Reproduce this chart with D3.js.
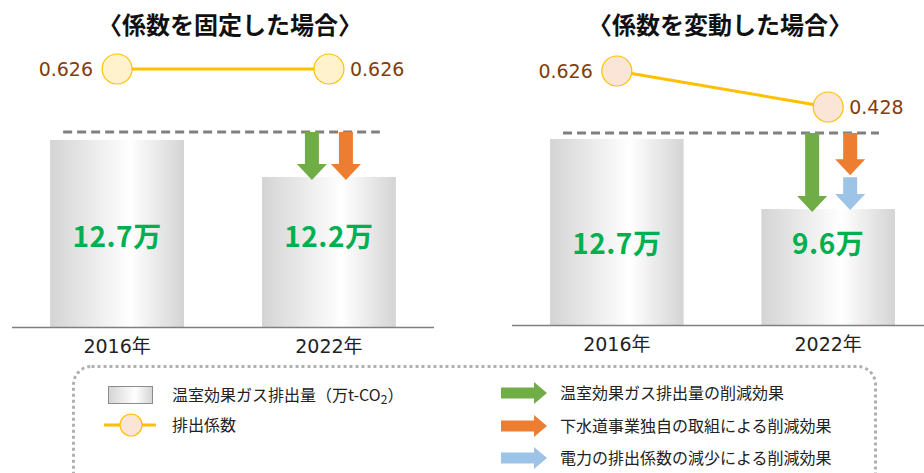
<!DOCTYPE html>
<html>
<head>
<meta charset="utf-8">
<script src="https://cdn.jsdelivr.net/npm/d3@7"></script>
<style>
  body { margin: 0; background: #fff; }
  svg { display: block; font-family: "Noto Sans CJK JP", "Noto Sans", sans-serif; }
  .num { font-family: "DejaVu Sans", "Noto Sans CJK JP", sans-serif; }
</style>
</head>
<body>
<div class="chart"></div>
<script>
////////// DATA //////////

var years = ["2016年", "2022年"];
var titles = ["〈係数を固定した場合〉", "〈係数を変動した場合〉"];
var emissionsFixed = [12.7, 12.2];
var emissionsVaried = [12.7, 9.6];
var coefFixed = [0.626, 0.626];
var coefVaried = [0.626, 0.428];
var valueLabelsFixed = ["12.7万", "12.2万"];
var valueLabelsVaried = ["12.7万", "9.6万"];
// where the own-effort (orange) arrow stops in the varied case
var ownEffortEnd = 11.1;

var legendLeft = ["温室効果ガス排出量（万t-CO", "排出係数"];
var legendRight = ["温室効果ガス排出量の削減効果", "下水道事業独自の取組による削減効果", "電力の排出係数の減少による削減効果"];

var green = "#70ad47", orange = "#ed7d31", blue = "#9dc3e6";


////////// SETUP //////////

var width = 924, height = 473;

var svg = d3.select(".chart")
  .append("svg")
  .attr("width", width)
  .attr("height", height);

var defs = svg.append("defs");
var grad = defs.append("linearGradient")
  .attr("id", "barGrad")
  .attr("x1", "0%").attr("x2", "100%").attr("y1", "0%").attr("y2", "0%");
grad.append("stop").attr("offset", "0%").attr("stop-color", "#d4d4d4");
grad.append("stop").attr("offset", "60%").attr("stop-color", "#ffffff");
grad.append("stop").attr("offset", "100%").attr("stop-color", "#d4d4d4");

// panel settings (layout only)
var panels = [
  {
    title: titles[0], titleX: 230,
    values: emissionsFixed, labels: valueLabelsFixed, coef: coefFixed,
    range: [12, 434], base: 327, yDomainMin: 10.17, top: 140,
    coefRange: [105, 69], coefFill: "#fff2cc", labelY: 237,
    arrowDx: [-17, 17], dashY: 132
  },
  {
    title: titles[1], titleX: 720,
    values: emissionsVaried, labels: valueLabelsVaried, coef: coefVaried,
    range: [512, 933], base: 325, yDomainMin: 4.47, top: 139,
    coefRange: [107, 71], coefFill: "#fbe5d6", labelY: 244,
    arrowDx: [-16, 22], dashY: 133
  }
];

function downArrow(g, cx, y0, y1, color) {
  var sw = 7, hw = 15, hl = 16;
  var hy = y1 - hl;
  var p = d3.path();
  p.moveTo(cx - sw, y0);
  p.lineTo(cx + sw, y0);
  p.lineTo(cx + sw, hy);
  p.lineTo(cx + hw, hy);
  p.lineTo(cx, y1);
  p.lineTo(cx - hw, hy);
  p.lineTo(cx - sw, hy);
  p.closePath();
  g.append("path").attr("d", p.toString()).attr("fill", color);
}

function rightArrow(g, x0, x1, cy, color) {
  var sh = 5.5, hh = 11, hl = 13;
  var hx = x1 - hl;
  var p = d3.path();
  p.moveTo(x0, cy - sh);
  p.lineTo(hx, cy - sh);
  p.lineTo(hx, cy - hh);
  p.lineTo(x1, cy);
  p.lineTo(hx, cy + hh);
  p.lineTo(hx, cy + sh);
  p.lineTo(x0, cy + sh);
  p.closePath();
  g.append("path").attr("d", p.toString()).attr("fill", color);
}


////////// PANELS //////////

panels.forEach(function(P, pi) {
  var g = svg.append("g").attr("class", "panel");

  var x = d3.scaleBand()
    .domain(years)
    .range(P.range)
    .paddingInner(0.368)
    .paddingOuter(0.18);

  var y = d3.scaleLinear()
    .domain([P.yDomainMin, 12.7])
    .range([P.base, P.top]);

  var yc = d3.scaleLinear()
    .domain([0.428, 0.626])
    .range(P.coefRange);

  // title
  g.append("text")
    .attr("x", P.titleX)
    .attr("y", 34)
    .attr("text-anchor", "middle")
    .style("font-size", "24px")
    .style("font-weight", "bold")
    .style("fill", "#111")
    .text(P.title);

  // bars
  g.selectAll(".bar")
    .data(P.values)
    .enter()
    .append("rect")
    .attr("class", "bar")
    .attr("x", function(d, i) { return x(years[i]); })
    .attr("y", function(d) { return y(d); })
    .attr("width", x.bandwidth())
    .attr("height", function(d) { return P.base - y(d); })
    .attr("fill", "url(#barGrad)");

  // baseline
  g.append("line")
    .attr("x1", P.range[0]).attr("x2", P.range[1])
    .attr("y1", P.base + 0.5).attr("y2", P.base + 0.5)
    .attr("stroke", "#7f7f7f")
    .attr("stroke-width", 1.5);

  // year labels
  g.selectAll(".year")
    .data(years)
    .enter()
    .append("text")
    .attr("class", "year num")
    .attr("x", function(d) { return x(d) + x.bandwidth() / 2; })
    .attr("y", P.base + 26)
    .attr("text-anchor", "middle")
    .style("font-size", "19px")
    .style("fill", "#222")
    .text(function(d) { return d; });

  // value labels
  g.selectAll(".val")
    .data(P.labels)
    .enter()
    .append("text")
    .attr("class", "val")
    .attr("x", function(d, i) { return x(years[i]) + x.bandwidth() / 2; })
    .attr("y", P.labelY)
    .attr("dy", "0.36em")
    .attr("text-anchor", "middle")
    .style("font-size", "28px")
    .style("font-weight", "bold")
    .style("letter-spacing", "0.5px")
    .style("fill", "#00b050")
    .text(function(d) { return d; });

  // dashed reference line at the 2016 level
  g.append("line")
    .attr("x1", x(years[0]) + 13)
    .attr("x2", x(years[1]) + x.bandwidth() - 16)
    .attr("y1", P.dashY).attr("y2", P.dashY)
    .attr("stroke", "#808080")
    .attr("stroke-width", 3)
    .attr("stroke-dasharray", "9 5");

  // reduction arrows
  var cx2 = x(years[1]) + x.bandwidth() / 2;
  var tip = y(P.values[1]) + 3;
  downArrow(g, cx2 + P.arrowDx[0], P.dashY, tip, green);
  if (pi === 0) {
    downArrow(g, cx2 + P.arrowDx[1], P.dashY, tip, orange);
  } else {
    downArrow(g, cx2 + P.arrowDx[1], P.dashY, y(ownEffortEnd), orange);
    downArrow(g, cx2 + P.arrowDx[1], y(ownEffortEnd) + 2, tip - 2, blue);
  }

  // emission coefficient line
  var line = d3.line()
    .x(function(d, i) { return x(years[i]) + x.bandwidth() / 2; })
    .y(function(d) { return yc(d); });

  g.append("path")
    .datum(P.coef)
    .attr("d", line)
    .attr("fill", "none")
    .attr("stroke", "#ffc000")
    .attr("stroke-width", 3);

  g.selectAll(".coef")
    .data(P.coef)
    .enter()
    .append("circle")
    .attr("class", "coef")
    .attr("cx", function(d, i) { return x(years[i]) + x.bandwidth() / 2; })
    .attr("cy", function(d) { return yc(d); })
    .attr("r", 15)
    .attr("fill", P.coefFill)
    .attr("stroke", "#ffc000")
    .attr("stroke-width", 1.2);

  g.selectAll(".coefLabel")
    .data(P.coef)
    .enter()
    .append("text")
    .attr("class", "coefLabel num")
    .attr("x", function(d, i) {
      var c = x(years[i]) + x.bandwidth() / 2;
      return i === 0 ? c - 24 : c + 21;
    })
    .attr("y", function(d) { return yc(d); })
    .attr("dy", "0.36em")
    .attr("text-anchor", function(d, i) { return i === 0 ? "end" : "start"; })
    .style("font-size", "19px")
    .style("fill", "#843c0c")
    .text(function(d) { return d3.format(".3f")(d); });
});


////////// LEGEND //////////

var legend = svg.append("g").attr("class", "legend");

legend.append("rect")
  .attr("x", 73.5).attr("y", 366.5)
  .attr("width", 802).attr("height", 140)
  .attr("rx", 18).attr("ry", 18)
  .attr("fill", "none")
  .attr("stroke", "#b0b0b0")
  .attr("stroke-width", 3)
  .attr("stroke-dasharray", "3 3");

legend.append("rect")
  .attr("x", 108.5).attr("y", 386.5)
  .attr("width", 44).attr("height", 17)
  .attr("fill", "url(#barGrad)")
  .attr("stroke", "#8c8c8c")
  .attr("stroke-width", 1);

var t0 = legend.append("text")
  .attr("x", 172).attr("y", 395)
  .attr("dy", "0.36em")
  .style("font-size", "16px")
  .style("fill", "#222")
  .text(legendLeft[0]);
t0.append("tspan")
  .attr("dy", "3")
  .style("font-size", "12px")
  .text("2");
t0.append("tspan")
  .attr("dy", "-3")
  .text("）");

legend.append("line")
  .attr("x1", 104).attr("x2", 156)
  .attr("y1", 425).attr("y2", 425)
  .attr("stroke", "#ffc000")
  .attr("stroke-width", 3);

legend.append("circle")
  .attr("cx", 131).attr("cy", 425).attr("r", 11)
  .attr("fill", "#fbe5d6")
  .attr("stroke", "#ffc000")
  .attr("stroke-width", 1.2);

legend.append("text")
  .attr("x", 172).attr("y", 425)
  .attr("dy", "0.36em")
  .style("font-size", "16px")
  .style("fill", "#222")
  .text(legendLeft[1]);

var arrowColors = [green, orange, blue];
var rowY = [393, 426, 458];

legendRight.forEach(function(label, i) {
  rightArrow(legend, 501, 547, rowY[i], arrowColors[i]);
  legend.append("text")
    .attr("x", 560).attr("y", rowY[i])
    .attr("dy", "0.36em")
    .style("font-size", "16px")
    .style("fill", "#222")
    .text(label);
});
</script>
</body>
</html>
